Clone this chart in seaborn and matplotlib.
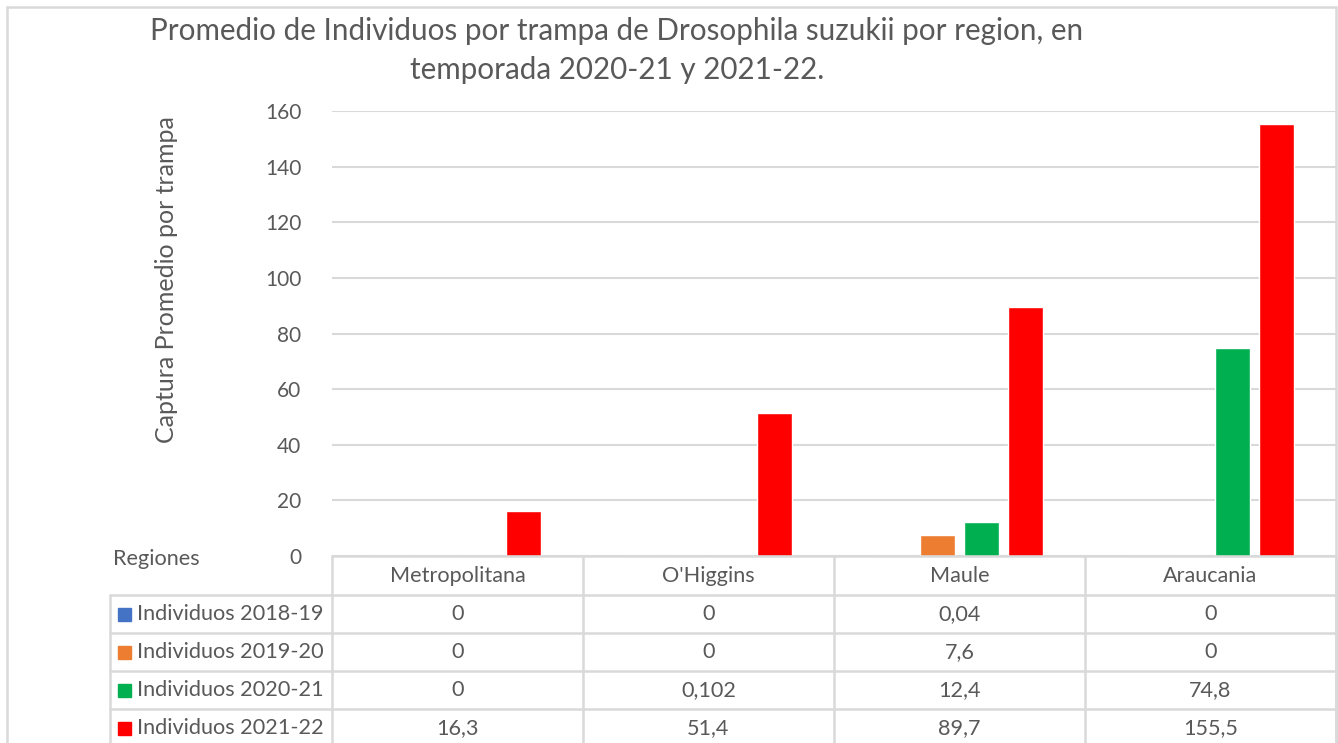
import pandas as pd
import numpy as np
import matplotlib
matplotlib.use("Agg")
import matplotlib.pyplot as plt
import seaborn as sns
from matplotlib.lines import Line2D
from matplotlib.patches import Rectangle

regiones = ["Metropolitana", "O'Higgins", "Maule", "Araucania"]
series = ["Individuos 2018-19", "Individuos 2019-20", "Individuos 2020-21", "Individuos 2021-22"]
v_2018_19 = [0, 0, 0.04, 0]
v_2019_20 = [0, 0, 7.6, 0]
v_2020_21 = [0, 0.102, 12.4, 74.8]
v_2021_22 = [16.3, 51.4, 89.7, 155.5]
etiquetas = [
    ["0", "0", "0,04", "0"],
    ["0", "0", "7,6", "0"],
    ["0", "0,102", "12,4", "74,8"],
    ["16,3", "51,4", "89,7", "155,5"],
]
colores = ["#4472C4", "#ED7D31", "#00B050", "#FF0000"]

valores = [v_2018_19, v_2019_20, v_2020_21, v_2021_22]
df = pd.DataFrame({
    "region": regiones * 4,
    "serie": np.repeat(series, 4),
    "valor": np.concatenate(valores),
})

sns.set_style("white")
plt.rcParams["font.family"] = ["Lato", "DejaVu Sans"]
txt = "#595959"
grid = "#d9d9d9"

W, H = 1338, 743
fig = plt.figure(figsize=(W / 100, H / 100), dpi=100)

def fx(px):
    return px / W

def fy(py):
    return 1 - py / H

# zona del grafico
x0, x1, ytop, ybot = 332, 1336, 111, 556
ax = fig.add_axes([fx(x0), fy(ybot), fx(x1) - fx(x0), fy(ytop) - fy(ybot)])
sns.barplot(data=df, x="region", y="valor", hue="serie", palette=colores,
            width=0.7, gap=0.2, ax=ax, legend=False, saturation=1)
ax.set_ylim(0, 160)
ax.set_xlim(-0.5, 3.5)
ax.set_yticks(range(0, 161, 20))
ax.yaxis.grid(True, color=grid, linewidth=1.5)
ax.set_axisbelow(True)
for s in ax.spines.values():
    s.set_visible(False)
ax.set_xticks([])
ax.set_xlabel("")
ax.set_ylabel("")
ax.tick_params(axis="y", length=0, labelsize=15, labelcolor=txt, pad=22)

# titulo y eje y
fig.text(fx(167), fy(280), "Captura Promedio por trampa", rotation=90,
         ha="center", va="center", fontsize=18, color=txt)
fig.text(fx(617), fy(31), "Promedio de Individuos por trampa de Drosophila suzukii por region, en",
         ha="center", va="center", fontsize=21.3, color=txt)
fig.text(fx(617), fy(70), "temporada 2020-21 y 2021-22.",
         ha="center", va="center", fontsize=21.3, color=txt)

# borde exterior
fig.add_artist(Rectangle((fx(7), fy(760)), fx(1336) - fx(7), fy(7) - fy(760),
                         transform=fig.transFigure, fill=False, edgecolor=grid, linewidth=1.8))

# tabla de datos
def line(xa, ya, xb, yb):
    fig.add_artist(Line2D([fx(xa), fx(xb)], [fy(ya), fy(yb)], color=grid, linewidth=1.8))

cols = [332, 583, 834, 1085, 1336]
rows = [556, 595, 633, 671, 709, 747]
line(332, 556, 1336, 556)
for r in rows[1:]:
    line(110, r, 1336, r)
for c in cols:
    line(c, 556, c, 747)
line(110, 595, 110, 747)

fs = 15.6
fig.text(fx(113), fy(559), "Regiones", ha="left", va="center", fontsize=fs, color=txt)
for i, reg in enumerate(regiones):
    xc = (cols[i] + cols[i + 1]) / 2
    fig.text(fx(xc), fy(576), reg, ha="center", va="center", fontsize=fs, color=txt)
for j, nombre in enumerate(series):
    yc = (rows[j + 1] + rows[j + 2]) / 2
    fig.add_artist(Rectangle((fx(118), fy(yc + 6.5)), fx(131) - fx(118), fy(yc - 6.5) - fy(yc + 6.5),
                             transform=fig.transFigure, color=colores[j]))
    fig.text(fx(137), fy(yc), nombre, ha="left", va="center", fontsize=fs, color=txt)
    for i in range(4):
        xc = (cols[i] + cols[i + 1]) / 2
        fig.text(fx(xc), fy(yc), etiquetas[j][i], ha="center", va="center", fontsize=fs, color=txt)

fig.savefig("out.png", dpi=100)
